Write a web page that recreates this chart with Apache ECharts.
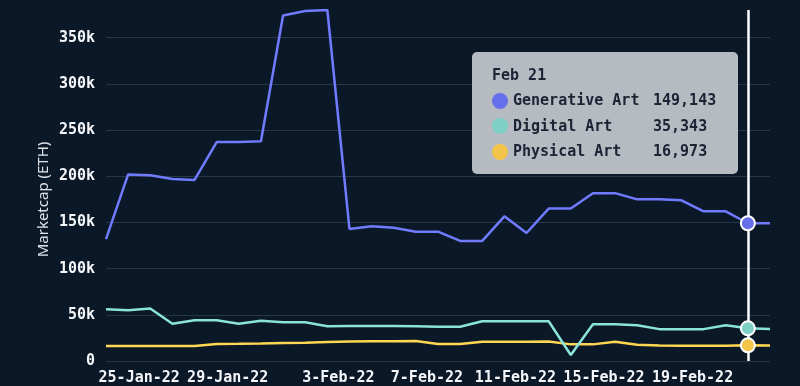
<!DOCTYPE html>
<html><head><meta charset="utf-8">
<script src="https://cdn.jsdelivr.net/npm/echarts@6/dist/echarts.min.js"></script>
<style>html,body{margin:0;padding:0;background:#0b1828;}#c{width:800px;height:386px;}</style>
</head><body><div id="c"></div>
<script>
const dates = ['2022-01-23','2022-01-24','2022-01-25','2022-01-26','2022-01-27','2022-01-28','2022-01-29','2022-01-30','2022-01-31',
  '2022-02-01','2022-02-02','2022-02-03','2022-02-04','2022-02-05','2022-02-06','2022-02-07','2022-02-08','2022-02-09','2022-02-10',
  '2022-02-11','2022-02-12','2022-02-13','2022-02-14','2022-02-15','2022-02-16','2022-02-17','2022-02-18','2022-02-19','2022-02-20',
  '2022-02-21','2022-02-22'];
const seriesNames = ['Generative Art','Digital Art','Physical Art'];
const generative = [132000,202000,201000,197000,196000,237000,237000,238000,374000,379000,380000,143000,145800,144300,140000,140000,
  130000,130000,156600,138600,165000,165000,181700,181700,175000,175000,174000,162000,162000,149143,149000];
const digital = [56000,55000,56800,40300,44200,44200,40300,43500,42000,42000,37700,38000,38000,38000,37500,37000,
  37000,43000,43000,43000,43000,6500,39800,39800,38800,34500,34500,34500,38800,35343,34700];
const physical = [16200,16200,16200,16200,16200,18300,18600,19000,19500,19800,20500,21000,21300,21500,21600,18300,
  18300,20900,20900,20900,21000,18000,18000,20900,17500,16800,16500,16500,16500,16973,16900];
const tickDates = ['2022-01-25','2022-01-29','2022-02-03','2022-02-07','2022-02-11','2022-02-15','2022-02-19'];
const tickLabels = ['25-Jan-22','29-Jan-22','3-Feb-22','7-Feb-22','11-Feb-22','15-Feb-22','19-Feb-22'];
const yTickStep = 50000;
const axisTitle = 'Marketcap (ETH)';
const monthNames = ['Jan','Feb','Mar','Apr','May','Jun','Jul','Aug','Sep','Oct','Nov','Dec'];
const hoverIndex = 29;

function dayNum(s) { const p = s.split('-').map(Number); return Math.round(Date.UTC(p[0], p[1]-1, p[2]) / 86400000); }
const d0 = dayNum(dates[0]);
// data points sit at mid-day, date labels at the start of the day
const xs = dates.map(d => dayNum(d) - d0);
const tickVals = tickDates.map(d => dayNum(d) - d0 - 0.5);
const colors = ['#6670ec','#7ed0c6','#f2c54a'];
const mono = "'DejaVu Sans Mono', monospace";

const chart = echarts.init(document.getElementById('c'), null, {renderer:'canvas'});
function mk(name, vals, i) {
  return {
    name, type:'line', data: vals.map((v, k) => [xs[k], v]),
    showSymbol:false, symbol:'circle', symbolSize:14,
    lineStyle:{color:colors[i], width:2.5},
    itemStyle:{color:colors[i], borderColor:'#ffffff', borderWidth:2},
    emphasis:{scale:false, focus:'none', lineStyle:{width:2.5}},
    z: 60 - i
  };
}
chart.setOption({
  animation:false,
  backgroundColor:'#0b1828',
  color: colors,
  grid:{left:106, right:30, top:10, bottom:23},
  xAxis:{
    type:'value', min: xs[0], max: xs[xs.length-1],
    axisLine:{show:false}, axisTick:{show:false}, splitLine:{show:false},
    axisLabel:{
      customValues: tickVals, margin:10,
      color:'#f4f6f9', fontFamily: mono, fontSize:15, fontWeight:'bold',
      formatter: v => { const k = tickVals.findIndex(t => Math.abs(t - v) < 1e-6); return k >= 0 ? tickLabels[k] : ''; }
    }
  },
  yAxis:{
    type:'value', min:0, max:'dataMax', interval:yTickStep,
    axisLine:{show:false}, axisTick:{show:false},
    splitLine:{show:true, showMaxLine:false, lineStyle:{color:'#27374a', width:1}},
    axisLabel:{
      showMaxLabel:false, margin:11, color:'#f4f6f9', fontFamily: mono, fontSize:15, fontWeight:'bold',
      formatter: v => v === 0 ? '0' : (v/1000) + 'k'
    }
  },
  graphic:[{
    type:'text', x:43.5, y:199.5, rotation:Math.PI/2,
    style:{text:axisTitle, fill:'#dde1e7', font:"15px 'Noto Sans', sans-serif", align:'center', verticalAlign:'middle'}
  }],
  tooltip:{
    trigger:'axis', alwaysShowContent:true, transitionDuration:0, showDelay:0,
    position:[472, 52], padding:0, borderWidth:0,
    backgroundColor:'rgba(188,192,198,0.97)',
    extraCssText:'box-shadow:none;border-radius:5px;',
    axisPointer:{type:'line', snap:true, animation:false, z:10, label:{show:false}, lineStyle:{color:'#ffffff', width:2.5, type:'solid'}},
    formatter: params => {
      const ds = dates[params[0].dataIndex].split('-').map(Number);
      let h = `<div style="font-family:'DejaVu Sans Mono',monospace;font-size:15px;line-height:25.3px;color:#1b2434;font-weight:bold;padding:11px 20px 10px 20px;width:226px;">`;
      h += `<div>${monthNames[ds[1]-1]} ${ds[2]}</div>`;
      params.forEach(p => {
        h += `<div style="display:flex;align-items:center;white-space:pre;height:25.3px"><span style="display:inline-block;width:16px;height:16px;border-radius:50%;background:${p.color};margin-right:5px"></span><span style="display:inline-block;width:140px">${p.seriesName}</span><span>${p.value[1].toLocaleString('en-US')}</span></div>`;
      });
      return h + '</div>';
    }
  },
  series:[mk(seriesNames[0], generative, 0), mk(seriesNames[1], digital, 1), mk(seriesNames[2], physical, 2)]
});
chart.dispatchAction({type:'showTip', seriesIndex:0, dataIndex:hoverIndex});
</script></body></html>
